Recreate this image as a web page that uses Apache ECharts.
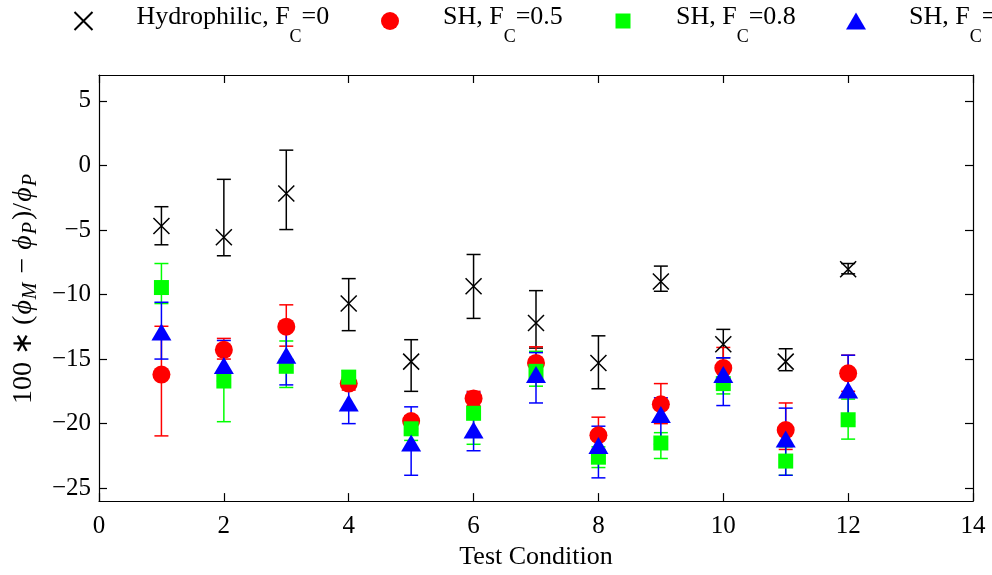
<!DOCTYPE html>
<html>
<head>
<meta charset="utf-8">
<script src="https://cdn.jsdelivr.net/npm/echarts@6/dist/echarts.min.js"></script>
<style>html,body{margin:0;padding:0;background:#fff}#c{width:992px;height:575px}</style>
</head>
<body>
<div id="c"></div>
<script>
// ---- data ----
const conditions = [1, 2, 3, 4, 5, 6, 7, 8, 9, 10, 11, 12];
const xTicks = [0, 2, 4, 6, 8, 10, 12, 14];
const yTicks = [-25, -20, -15, -10, -5, 0, 5];

const seriesNames = ['Hydrophilic, F_C=0', 'SH, F_C=0.5', 'SH, F_C=0.8', 'SH, F_C=0.9'];

const hydroMean = [-4.7, -5.56, -2.18, -10.7, -15.2, -9.36, -12.2, -15.3, -9.0, -13.85, -15.2, -8.05];
const hydroLow  = [-6.15, -7.0, -4.97, -12.8, -17.5, -11.85, -14.15, -17.3, -9.75, -14.9, -15.9, -8.4];
const hydroHigh = [-3.2, -1.08, 1.18, -8.77, -13.5, -6.9, -9.7, -13.2, -7.8, -12.7, -14.2, -7.6];

const sh05Mean = [-16.2, -14.28, -12.49, -16.9, -19.8, -18.05, -15.3, -20.9, -18.5, -15.7, -20.5, -16.1];
const sh05Low  = [-20.95, -15.0, -14.0, -17.4, -20.4, -18.6, -16.5, -22.0, -20.0, -17.0, -22.0, -17.5];
const sh05High = [-12.46, -13.4, -10.8, -16.4, -19.4, -17.5, -14.05, -19.5, -16.9, -14.1, -18.4, -14.7];

const sh08Mean = [-9.46, -16.7, -15.56, -16.4, -20.4, -19.2, -15.95, -22.6, -21.5, -16.9, -22.9, -19.7];
const sh08Low  = [-10.7, -19.85, -17.2, -16.9, -21.3, -21.6, -17.1, -23.4, -22.7, -17.7, -24.0, -21.2];
const sh08High = [-7.6, -14.2, -13.6, -15.9, -19.5, -17.9, -14.4, -21.8, -20.7, -16.0, -21.8, -18.1];

const sh09Mean = [-12.9, -15.5, -14.7, -18.4, -21.5, -20.5, -16.2, -21.7, -19.3, -16.2, -21.2, -17.4];
const sh09Low  = [-15.0, -16.7, -17.0, -20.0, -24.0, -22.1, -18.4, -24.2, -21.6, -18.6, -24.0, -19.85];
const sh09High = [-10.6, -13.56, -12.6, -16.7, -18.7, -17.6, -14.5, -20.2, -18.0, -14.9, -18.8, -14.7];

// ---- chart ----
const FONT = 'Liberation Serif, Times New Roman, serif';
const chart = echarts.init(document.getElementById('c'), null, {renderer: 'canvas'});

function errRender(color) {
  return function (params, api) {
    const x = api.value(0);
    const lo = api.coord([x, api.value(1)]);
    const hi = api.coord([x, api.value(2)]);
    const w = 7;
    const st = {stroke: color, lineWidth: 1.5};
    return {
      type: 'group',
      children: [
        {type: 'line', shape: {x1: lo[0], y1: lo[1], x2: hi[0], y2: hi[1]}, style: st},
        {type: 'line', shape: {x1: lo[0] - w, y1: lo[1], x2: lo[0] + w, y2: lo[1]}, style: st},
        {type: 'line', shape: {x1: hi[0] - w, y1: hi[1], x2: hi[0] + w, y2: hi[1]}, style: st}
      ]
    };
  };
}

function errData(lo, hi) { return conditions.map((c, i) => [c, lo[i], hi[i]]); }
function ptData(m) { return conditions.map((c, i) => [c, m[i]]); }

const CROSS = 'path://M0,0L10,10M0,10L10,0';
const SQUARE = 'path://M0,0L10,0L10,10L0,10Z';
const TRI = 'path://M10,0L20,17L0,17Z';

const groups = [
  {name: seriesNames[0], color: '#000000', mean: hydroMean, lo: hydroLow, hi: hydroHigh,
   symbol: CROSS, size: 16, legendIcon: CROSS, iconH: 18, iconW: 18,
   itemStyle: {color: 'none', borderColor: '#000', borderWidth: 1.5, opacity: 1}},
  {name: seriesNames[1], color: '#ff0000', mean: sh05Mean, lo: sh05Low, hi: sh05High,
   symbol: 'circle', size: 18, legendIcon: 'circle', iconH: 18, iconW: 18,
   itemStyle: {color: '#ff0000', opacity: 1}},
  {name: seriesNames[2], color: '#00ff00', mean: sh08Mean, lo: sh08Low, hi: sh08High,
   symbol: 'rect', size: 15, legendIcon: SQUARE, iconH: 15, iconW: 15,
   itemStyle: {color: '#00ff00', opacity: 1}},
  {name: seriesNames[3], color: '#0000ff', mean: sh09Mean, lo: sh09Low, hi: sh09High,
   symbol: 'triangle', size: [20, 17], legendIcon: TRI, iconH: 17, iconW: 20,
   itemStyle: {color: '#0000ff', opacity: 1}}
];

const series = [];
groups.forEach((g, k) => {
  series.push({
    type: 'custom', name: 'err' + k, silent: true,
    renderItem: errRender(g.color),
    encode: {x: 0, y: [1, 2]},
    data: errData(g.lo, g.hi)
  });
  series.push({
    type: 'scatter', name: g.name, symbol: g.symbol, symbolSize: g.size,
    itemStyle: g.itemStyle, data: ptData(g.mean), silent: true
  });
});

function legendFmt(name) {
  const parts = name.split('_C');
  return '{a|' + parts[0] + '}{s|C}{a|' + parts[1] + '}';
}

const legendCenters = [81, 390, 623, 856];
const legends = groups.map((g, k) => ({
  data: [{name: g.name, icon: g.legendIcon}],
  left: legendCenters[k] - g.iconW / 2, top: 4, orient: 'horizontal',
  itemWidth: 96, itemHeight: g.iconH, symbolKeepAspect: true,
  selectedMode: false, padding: 0,
  formatter: legendFmt,
  textStyle: {
    color: '#000', fontFamily: FONT,
    rich: {
      a: {fontFamily: FONT, fontSize: 26, color: '#000', verticalAlign: 'top', padding: [8, 0, 0, 0]},
      s: {fontFamily: FONT, fontSize: 18, color: '#000', verticalAlign: 'top', padding: [32, 0, 0, 0]}
    }
  }
}));

const minus = v => String(v).replace('-', '\u2212');
const axisLineStyle = {color: '#000', width: 1.2};

const option = {
  animation: false,
  backgroundColor: '#fff',
  legend: legends,
  grid: {left: 99, right: 19, top: 75, bottom: 72, containLabel: false},
  xAxis: [
    {
      type: 'value', min: 0, max: 14, interval: 2, position: 'bottom',
      name: 'Test Condition', nameLocation: 'middle', nameGap: 40,
      nameTextStyle: {fontFamily: FONT, fontSize: 26, color: '#000'},
      axisLine: {show: true, onZero: false, lineStyle: axisLineStyle},
      axisTick: {show: true, inside: true, length: 8, lineStyle: axisLineStyle},
      axisLabel: {show: true, fontFamily: FONT, fontSize: 25, color: '#000', margin: 13,
                  customValues: xTicks, formatter: minus},
      splitLine: {show: false}
    },
    {
      type: 'value', min: 0, max: 14, interval: 2, position: 'top',
      axisLine: {show: true, onZero: false, lineStyle: axisLineStyle},
      axisTick: {show: true, inside: true, length: 8, lineStyle: axisLineStyle},
      axisLabel: {show: false}, splitLine: {show: false}
    }
  ],
  yAxis: [
    {
      type: 'value', min: -26, max: 7, position: 'left',
      name: '{n|100 \u2217 (}{i|\u03d5}{sub|M}{n| \u2212 }{i|\u03d5}{sub|P}{n|)/}{i|\u03d5}{sub|P}',
      nameLocation: 'middle', nameRotate: 90, nameGap: 56,
      nameTextStyle: {
        fontFamily: FONT, fontSize: 28, color: '#000',
        rich: {
          n: {fontFamily: FONT, fontSize: 28, color: '#000', verticalAlign: 'top', padding: [0, 0, 0, 0]},
          i: {fontFamily: FONT, fontSize: 28, fontStyle: 'italic', color: '#000', verticalAlign: 'top', padding: [0, 1, 0, 1]},
          sub: {fontFamily: FONT, fontSize: 20, fontStyle: 'italic', color: '#000', verticalAlign: 'top', padding: [11, 2, 0, 0]}
        }
      },
      axisLine: {show: true, onZero: false, lineStyle: axisLineStyle},
      axisTick: {show: true, inside: true, length: 8, lineStyle: axisLineStyle, customValues: yTicks},
      axisLabel: {show: true, fontFamily: FONT, fontSize: 25, color: '#000', margin: 8,
                  customValues: yTicks, formatter: minus},
      splitLine: {show: false}
    },
    {
      type: 'value', min: -26, max: 7, position: 'right',
      axisLine: {show: true, onZero: false, lineStyle: axisLineStyle},
      axisTick: {show: true, inside: true, length: 8, lineStyle: axisLineStyle, customValues: yTicks},
      axisLabel: {show: false}, splitLine: {show: false}
    }
  ],
  series: series
};

chart.setOption(option);
</script>
</body>
</html>
